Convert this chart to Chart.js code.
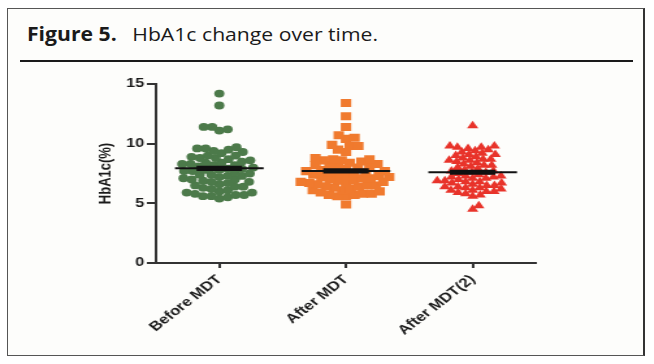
<!DOCTYPE html>
<html>
<head>
<meta charset="utf-8">
<script src="https://cdn.jsdelivr.net/npm/chart.js@4.4.1/dist/chart.umd.min.js"></script>
<style>
  html, body { margin: 0; padding: 0; background: #fff; }
  #page { position: relative; width: 654px; height: 364px; overflow: hidden; background: #fff; }
  #frame { position: absolute; left: 7px; top: 8px; width: 635px; height: 346px;
           border: 1px solid #555; border-right: 2px solid #333; background: #fdfdfb; }
  #title { position: absolute; left: 27px; top: 25px; font-family: "Open Sans", sans-serif;
           font-size: 19px; line-height: 19px; color: #1a1a1a; white-space: nowrap;
           transform-origin: 0 0; }
  #title b { font-weight: 700; margin-right: 14px; }
  #rule { position: absolute; left: 20px; top: 60px; width: 613px; height: 2px; background: #1a1a1a; }
  #plot { position: absolute; left: 0; top: 0; width: 503px; height: 364px;
          transform: scaleX(1.3); transform-origin: 0 0; }
</style>
</head>
<body>
<div id="page">
  <div id="frame"></div>
  <div id="title"><b>Figure 5.</b>HbA1c change over time.</div>
  <div id="rule"></div>
  <div id="plot"><canvas id="chart" width="503" height="364"></canvas></div>
</div>
<script>
// data
const categories = ['Before MDT', 'After MDT', 'After MDT(2)'];
const yTicks = [0, 5, 10, 15];

const beforeMDT = [
  14.2, 13.2, 11.4, 11.2, 11.1, 11.4,
  9.7, 9.6, 9.5, 9.6, 9.3, 9.4, 9.2,
  9.0, 8.9, 8.8, 9.0, 8.7, 8.8, 8.6,
  8.5, 8.4, 8.3, 8.4, 8.2, 8.3, 8.1, 8.2,
  8.0, 7.9, 7.8, 7.9, 7.7, 7.8, 7.7, 7.6,
  7.5, 7.4, 7.3, 7.4, 7.2, 7.3, 7.1,
  7.0, 6.9, 6.8, 7.0, 6.7, 6.8, 6.6,
  6.5, 6.4, 6.3, 6.4, 6.2, 6.1,
  6.0, 5.9, 5.8, 5.9, 5.7,
  5.6, 5.5, 5.6, 5.4, 5.7
];
const afterMDT = [
  13.4, 12.3, 11.4, 10.7, 10.4, 10.5, 9.8, 9.5, 9.9, 9.3, 9.8,
  8.8, 8.7, 8.6, 8.7, 8.5, 8.6, 8.4,
  8.3, 8.2, 8.1, 8.2, 8.0, 8.1, 7.9,
  7.8, 7.7, 7.6, 7.7, 7.5, 7.6, 7.4, 7.5,
  7.3, 7.2, 7.3, 7.1, 7.2, 7.0, 7.1,
  6.9, 6.8, 6.9, 6.7, 6.8, 6.6, 6.7,
  6.5, 6.4, 6.5, 6.3, 6.4, 6.2,
  6.1, 6.0, 5.9, 6.1, 5.8, 5.7, 5.8,
  5.6, 5.6, 5.7,
  4.9
];
const afterMDT2 = [
  11.5, 9.8, 9.7, 9.8, 9.6, 9.7, 9.5, 9.4,
  9.2, 9.1, 9.3, 9.0, 9.1, 8.9,
  8.8, 8.7, 8.6, 8.7, 8.5, 8.4, 8.6,
  8.3, 8.2, 8.1, 8.2, 8.0, 7.9,
  7.8, 7.7, 7.6, 7.7, 7.5, 7.6, 7.4,
  7.3, 7.2, 7.3, 7.1, 7.2, 7.0, 7.1,
  6.9, 6.8, 6.7, 6.9, 6.8, 6.6, 6.7,
  6.5, 6.4, 6.3, 6.5, 6.4, 6.2, 6.3,
  6.1, 6.0, 5.9, 6.1, 6.0, 5.8,
  5.7, 5.6, 4.8, 4.5
];

// pixel scale of the (unstretched) canvas, used only to spread the dots
const PX_X = 96.9, PX_Y = 179 / 15;

function swarm(values, center, diam) {
  const order = values.map((v, i) => i).sort((a, b) => values[a] - values[b]);
  const placed = [];
  const out = [];
  order.forEach((i, n) => {
    const y = values[i] * PX_Y;
    const cands = [0];
    placed.forEach(p => {
      const dy = Math.abs(p.y - y);
      if (dy < diam) {
        const dx = Math.sqrt(diam * diam - dy * dy);
        cands.push(p.x + dx, p.x - dx);
      }
    });
    const side = n % 2 ? 1 : -1;
    cands.sort((a, b) => (Math.abs(a) - Math.abs(b)) || (side * (b - a)));
    const x = cands.find(c => placed.every(p => (p.x - c) ** 2 + (p.y - y) ** 2 >= diam * diam - 0.01));
    placed.push({ x, y });
    out.push({ x: center + x / PX_X, y: values[i] });
  });
  return out;
}

function mean(a) { return a.reduce((s, v) => s + v, 0) / a.length; }
function sem(a) {
  const m = mean(a);
  const sd = Math.sqrt(a.reduce((s, v) => s + (v - m) ** 2, 0) / (a.length - 1));
  return sd / Math.sqrt(a.length);
}

const groups = [beforeMDT, afterMDT, afterMDT2];
const colors = ['#4c7a4a', '#f07a2e', '#e8332a'];
const styles = ['circle', 'rect', 'triangle'];
const radii = [3.9, 5.7, 5];
const diams = [6.5, 6.6, 5.9];

const datasets = [];
groups.forEach((g, k) => {
  const c = k + 1;
  const m = mean(g);
  datasets.push({
    type: 'line', data: [{ x: c - 0.35, y: m }, { x: c + 0.35, y: m }],
    borderColor: '#111', borderWidth: 2, pointRadius: 0, order: 0
  });
  datasets.push({
    type: 'line', data: [{ x: c - 0.18, y: m }, { x: c + 0.18, y: m }],
    borderColor: '#111', borderWidth: Math.max(5, sem(g) * 2 * PX_Y), pointRadius: 0, order: 0
  });
});
groups.forEach((g, k) => {
  datasets.push({
    type: 'scatter', data: swarm(g, k + 1, diams[k]),
    pointStyle: styles[k], pointRadius: radii[k], pointBackgroundColor: colors[k],
    pointBorderWidth: 0, borderColor: colors[k], order: 1
  });
});

new Chart(document.getElementById('chart'), {
  type: 'scatter',
  data: { datasets: datasets },
  options: {
    responsive: false,
    animation: false,
    events: [],
    layout: { padding: { left: 70, right: 90.7, top: 84, bottom: 21 } },
    plugins: { legend: { display: false }, tooltip: { enabled: false } },
    scales: {
      x: {
        type: 'linear', min: 0.5, max: 3.5,
        afterBuildTicks: s => { s.ticks = [1, 2, 3].map(v => ({ value: v })); },
        afterFit: s => { s.height = 80; s.paddingLeft = 0; s.paddingRight = 0; },
        grid: { drawOnChartArea: false, drawTicks: true, tickLength: 5, color: '#333', lineWidth: 2 },
        border: { display: true, color: '#333', width: 2 },
        ticks: {
          autoSkip: false, maxRotation: 45, minRotation: 45, padding: 4,
          color: '#1a1a1a', font: { family: 'Liberation Sans, Arial, sans-serif', size: 13, weight: 'bold' },
          callback: v => categories[v - 1] || ''
        }
      },
      y: {
        min: 0, max: 15,
        afterBuildTicks: s => { s.ticks = yTicks.map(v => ({ value: v })); },
        afterFit: s => { s.width = 50; s.paddingTop = 0; s.paddingBottom = 0; },
        grid: { drawOnChartArea: false, drawTicks: true, tickLength: 7, color: '#333', lineWidth: 2 },
        border: { display: true, color: '#333', width: 2 },
        ticks: {
          padding: 2, color: '#1a1a1a',
          font: { family: 'Liberation Sans, Arial, sans-serif', size: 12.5, weight: 'bold' }
        },
        title: {
          display: true, text: 'HbA1c(%)', color: '#1a1a1a',
          font: { family: 'Liberation Sans, Arial, sans-serif', size: 13, weight: 'bold' }
        }
      }
    }
  }
});

// fit the caption to the width it has in the figure
const title = document.getElementById('title');
const w = title.getBoundingClientRect().width;
title.style.transform = 'scaleX(' + (351 / w) + ')';
</script>
</body>
</html>
